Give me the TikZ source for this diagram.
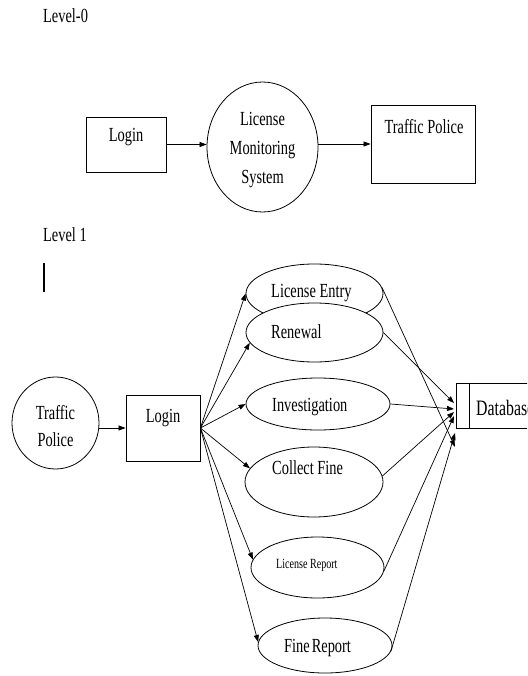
\documentclass[tikz,border=0pt]{standalone}
\usepackage{fontspec}
\setmainfont[FakeStretch=0.72]{Liberation Serif}
\usetikzlibrary{shapes.geometric,arrows.meta}
\begin{document}
\begin{tikzpicture}[x=1pt,y=-1pt,
  every node/.style={font=\fontsize{20}{29}\selectfont, inner sep=0pt},
  shp/.style={draw, line width=0.8pt, inner sep=0pt},
  arr/.style={-{Triangle[length=7pt,width=5pt]}, line width=0.7pt},
  small/.style={font=\fontsize{14}{16}\selectfont}]
\clip (0,0) rectangle (527,676);
\fill[white] (0,0) rectangle (527,676);
% labels
\node[anchor=base west] (lv0) at (43,23) {Level-0};
\node[anchor=base west] (lv1) at (43,241) {Level 1};
\draw[line width=1.3pt] (44,263) -- (44,292);
% level 0
\node[shp, rectangle, minimum width=80pt, minimum height=55pt] (login0) at (126,144.5) {};
\node (login0t) at (126,137) {Login};
\node[shp, ellipse, minimum width=111pt, minimum height=130pt] (lms) at (262.5,147) {};
\node[align=center] (lmst) at (262.5,150) {License\\Monitoring\\System};
\node[shp, rectangle, minimum width=104pt, minimum height=78pt] (tp0) at (423,144) {};
\node (tp0t) at (424,127) {Traffic Police};
\draw[arr] (login0.east) -- (login0.east -| lms.west);
\draw[arr] (lms.east |- tp0.west) -- (tp0.west);
% level 1
\node[shp, ellipse, minimum width=87pt, minimum height=92pt] (tp1) at (55.5,423) {};
\node[align=center, font=\fontsize{20}{27}\selectfont] (tp1t) at (55.5,426.5) {Traffic\\Police};
\node[shp, rectangle, minimum width=74pt, minimum height=66pt] (login1) at (163,428) {};
\node (login1t) at (163,418) {Login};
\draw[arr] (tp1.east |- login1.west) -- (login1.west);
\node[shp, ellipse, fill=white, minimum width=137pt, minimum height=59pt] (le) at (314.5,293.5) {};
\node[anchor=west] (let) at (271,293) {License Entry};
\node[shp, ellipse, fill=white, minimum width=137pt, minimum height=59pt] (rn) at (314.5,332.5) {};
\node[anchor=west] (rnt) at (271,332) {Renewal};
\node[shp, ellipse, minimum width=144pt, minimum height=52pt] (inv) at (318,404) {};
\node[anchor=west] (invt) at (272,407) {Investigation};
\node[shp, ellipse, minimum width=138pt, minimum height=70pt] (cf) at (314,482) {};
\node[anchor=west] (cft) at (272,468) {Collect Fine};
\node[shp, ellipse, minimum width=133pt, minimum height=61pt] (lr) at (317.5,567.5) {};
\node[anchor=west, small] (lrt) at (276,565) {License Report};
\node[shp, ellipse, minimum width=134pt, minimum height=55pt] (fr) at (325,645.5) {};
\node[anchor=west] (frt) at (284,648) {Fine\hspace{2pt}Report};
\node[shp, rectangle, minimum width=110pt, minimum height=45pt, anchor=west] (db) at (456,405.5) {};
\draw[line width=0.8pt] ([xshift=13pt]db.north west) -- ([xshift=13pt]db.south west);
\node[anchor=west, font=\fontsize{22}{26}\selectfont] (dbt) at (476,408) {Database};
% fan out
\draw[arr] (login1.east) -- (le.west);
\draw[arr] (login1.east) -- (rn.189);
\draw[arr] (login1.east) -- (inv.west);
\draw[arr] (login1.east) -- (cf.168);
\draw[arr] (login1.east) -- (lr.173);
\draw[arr] (login1.east) -- (fr.177);
% to database
\draw[arr] (le.5) -- ([xshift=-1pt,yshift=-41.5pt]db.west);
\draw[arr] (rn.east) -- ([xshift=-2pt,yshift=2.5pt]db.west);
\draw[arr] (inv.east) -- ([xshift=-2pt,yshift=-3.5pt]db.west);
\draw[arr] (cf.5) -- ([xshift=-2pt,yshift=-6.5pt]db.west);
\draw[arr] (lr.357) -- ([xshift=-2pt,yshift=-10.5pt]db.west);
\draw[arr] (fr.355) -- ([xshift=-1pt,yshift=-27.5pt]db.west);
\end{tikzpicture}
\end{document}
